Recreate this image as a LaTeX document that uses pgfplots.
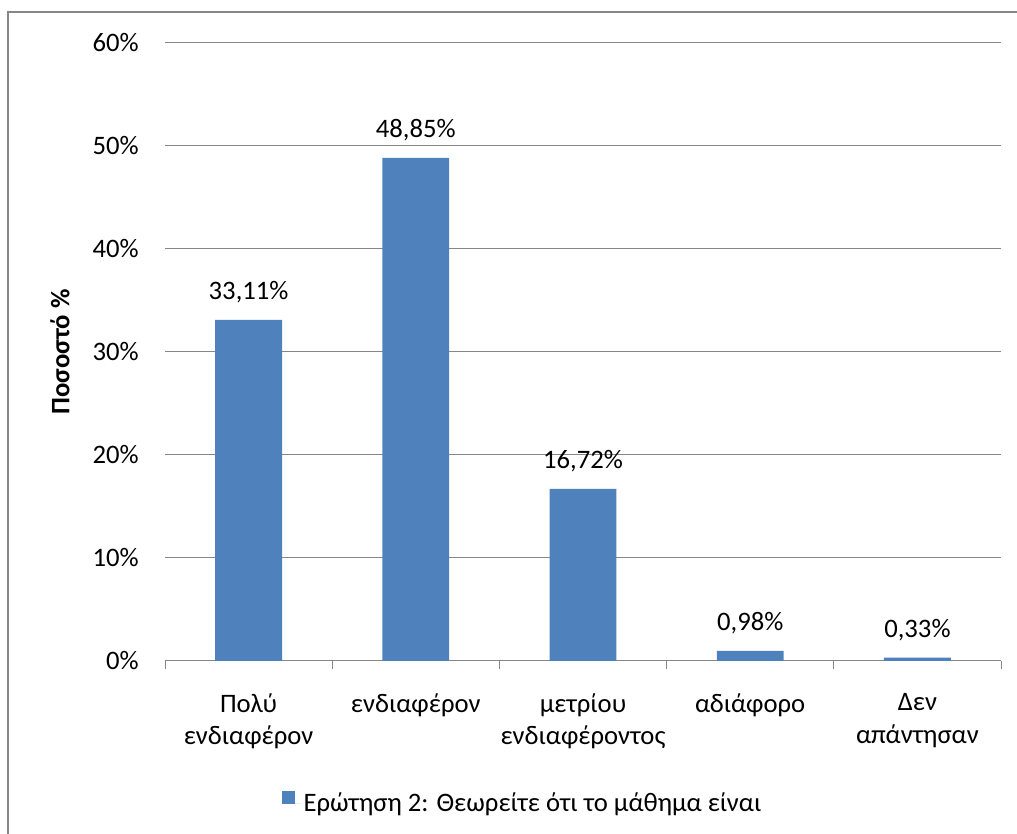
\documentclass[border=0pt]{standalone}
\usepackage{pgfplots}
\pgfplotsset{compat=1.18}
\usepackage{fontspec}
\setmainfont{Carlito}
\definecolor{barblue}{HTML}{4F81BD}
\definecolor{gridgray}{HTML}{878787}
\begin{document}
\fontsize{20}{24.5}\selectfont
\begin{tikzpicture}
\useasboundingbox (0,0) rectangle (762.75pt,625.5pt);
\draw[gridgray, line width=2pt] (6pt,0) -- (6pt,616.5pt) -- (762.75pt,616.5pt);
\begin{axis}[
    at={(123.75pt,129.75pt)}, anchor=south west,
    scale only axis, width=627pt, height=463.5pt,
    ybar, bar width=0.4,
    xmin=-0.5, xmax=4.5, ymin=0, ymax=60,
    axis x line*=bottom, axis y line*=left,
    y axis line style={draw=none},
    x axis line style={gridgray, line width=0.75pt},
    xtick={0,1,2,3,4},
    xticklabels={{Πολύ\\ενδιαφέρον},ενδιαφέρον,{μετρίου\\ενδιαφέροντος},αδιάφορο,{Δεν\\απάντησαν}},
    minor xtick={-0.5,0.5,1.5,2.5,3.5,4.5},
    major tick length=0pt, minor tick length=6pt,
    tick align=outside,
    minor tick style={gridgray, line width=0.75pt},
    xticklabel style={align=center, anchor=north, inner sep=0pt, yshift=-24pt},
    ytick={0,10,...,60},
    yticklabel={\pgfmathprintnumber{\tick}\%},
    yticklabel style={anchor=east, inner sep=0pt, xshift=-19.5pt},
    /pgf/number format/assume math mode=true,
    ymajorgrids, grid style={gridgray, line width=0.75pt},
    ylabel={\bfseries Ποσοστό \%},
    ylabel style={at={(axis description cs:-0.1256,0.5)}, anchor=center},
    nodes near coords={\pgfmathprintnumber[use comma,fixed,fixed zerofill,precision=2]{\pgfplotspointmeta}\%},
    every node near coord/.append style={anchor=base, inner sep=0pt, yshift=15pt},
    legend style={draw=none, fill=none, at={(axis description cs:0.428,-0.231)}, anchor=center},
    legend image code/.code={\fill[barblue] (0pt,0pt) rectangle (9.75pt,9.75pt);
        \path (0pt,0pt) -- (14.5pt,0pt);},
]
\addplot[fill=barblue, draw=none] coordinates {
    (0,33.11) (1,48.85) (2,16.72) (3,0.98) (4,0.33)
};
\addlegendentry{Ερώτηση 2: Θεωρείτε ότι το μάθημα είναι}
\end{axis}
\end{tikzpicture}
\end{document}
